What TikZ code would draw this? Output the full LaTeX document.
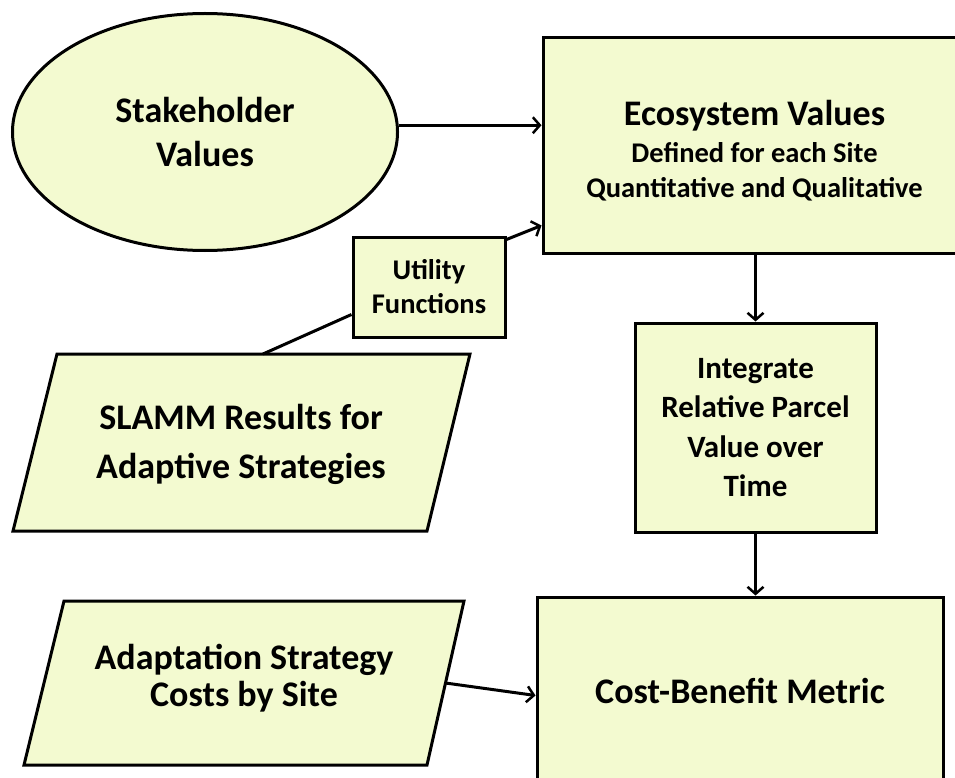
\documentclass[tikz,border=0pt]{standalone}
\usepackage{fontspec}
\setmainfont{Carlito}
\usetikzlibrary{shapes.geometric,arrows.meta,calc}
\definecolor{boxfill}{RGB}{243,250,208}
\tikzset{
  shapeline/.style={draw=black, line width=3pt, fill=boxfill},
  boxnode/.style={shapeline, rectangle, inner sep=0pt, align=center, font=\bfseries},
  txt/.style={align=center, inner sep=0pt, font=\bfseries},
  arr/.style={line width=3pt, -{Straight Barb[length=7pt,width=16pt,line width=2.5pt]}},
  conn/.style={line width=3pt},
}
\begin{document}
\begin{tikzpicture}[x=1pt,y=-1pt]
\useasboundingbox (0,0) rectangle (955,778);
\clip (0,0) rectangle (955,778);
\fill[white] (0,0) rectangle (955,778);

% Stakeholder ellipse
\node[shapeline, ellipse, minimum width=385pt, minimum height=237pt, inner sep=0pt, align=center,
      font=\bfseries\fontsize{36}{44}\selectfont] (stake) at (205,132) {Stakeholder\\Values};

% Ecosystem box (extends beyond right edge)
\node[boxnode, minimum width=423pt, minimum height=215pt, font=\bfseries\fontsize{28.5}{35}\selectfont]
  (eco) at (754.5,145.5)
  {\rule{0pt}{35pt}{\fontsize{36}{38}\selectfont Ecosystem Values}\\[2pt]
   Defined for each Site\\
   Quantitative and Qualitative};

% Utility functions
\node[boxnode, minimum width=152pt, minimum height=100pt, font=\bfseries\fontsize{28.5}{34}\selectfont]
  (util) at (429,287) {Utility\\Functions};

% Integrate box
\node[boxnode, minimum width=241pt, minimum height=209pt, font=\bfseries\fontsize{31}{39.5}\selectfont]
  (integ) at (755.5,427.5) {Integrate\\Relative Parcel\\Value over\\Time};

% Cost-Benefit box (extends below bottom)
\node[boxnode, minimum width=406pt, minimum height=188pt, font=\bfseries\fontsize{36}{43}\selectfont]
  (cost) at (740,691) {Cost-Benefit Metric};

% SLAMM parallelogram
\draw[shapeline, line join=miter] (57,354) -- (470,354) -- (427,531) -- (13,531) -- cycle;
\node[txt, font=\bfseries\fontsize{36}{49}\selectfont] (slamm) at (241,444) {SLAMM Results for\\Adaptive Strategies};
\coordinate (slammtop) at (263,354);

% Adaptation parallelogram
\draw[shapeline, line join=miter] (64,601) -- (464,601) -- (427,765) -- (24,765) -- cycle;
\node[txt, font=\bfseries\fontsize{36}{37}\selectfont] (adapt) at (244,678) {Adaptation Strategy\\Costs by Site};
\coordinate (adaptout) at (445.5,683);

% connectors
\coordinate (ecoin2) at ($(eco.south west)+(0,-29)$);
\coordinate (utilin) at ($(util.south west)+(0,-24)$);
\coordinate (utilout) at ($(util.north east)+(0,4)$);
\coordinate (costin) at ($(cost.north west)+(0,100)$);

\draw[arr] (stake.2) -- (stake.2 -| eco.west);
\draw[arr] (utilout) -- (ecoin2);
\draw[conn] (slammtop) -- (utilin);
\draw[arr] (eco.south -| integ.north) -- (integ.north);
\draw[arr] (integ.south) -- (integ.south |- cost.north);
\draw[arr] (adaptout) -- (costin);
\end{tikzpicture}
\end{document}
